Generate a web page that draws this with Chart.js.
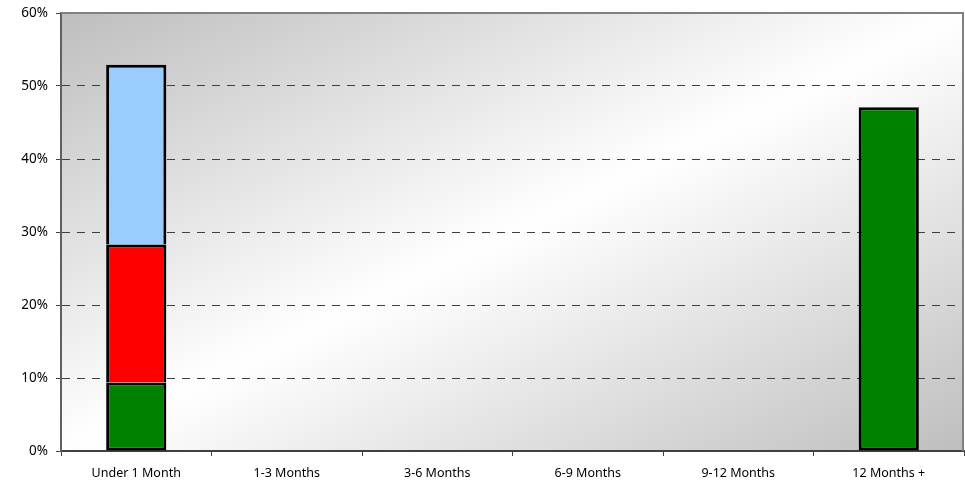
<!DOCTYPE html>
<html>
<head>
<meta charset="utf-8">
<script src="https://cdn.jsdelivr.net/npm/chart.js@4/dist/chart.umd.min.js"></script>
<style>
html,body{margin:0;padding:0;background:#fff;}
#wrap{width:965px;height:484px;}
</style>
</head>
<body>
<div id="wrap"><canvas id="c" width="965" height="484"></canvas></div>
<script>
const categories = ["Under 1 Month", "1-3 Months", "3-6 Months", "6-9 Months", "9-12 Months", "12 Months +"];
const greenValues = [9.4, null, null, null, null, 47.1];
const redValues = [18.9, null, null, null, null, null];
const blueValues = [24.6, null, null, null, null, null];
const yTicks = [0, 10, 20, 30, 40, 50, 60];

const FONT = "'Noto Sans', 'DejaVu Sans', sans-serif";

const bgPlugin = {
  id: 'bg',
  beforeDraw(chart) {
    const {ctx, chartArea: a} = chart;
    ctx.save();
    ctx.translate(a.left, a.top);
    ctx.scale(a.right - a.left, a.bottom - a.top);
    const g = ctx.createLinearGradient(0, 0, 1, 1);
    g.addColorStop(0, '#bebebe');
    g.addColorStop(0.5, '#ffffff');
    g.addColorStop(1, '#bebebe');
    ctx.fillStyle = g;
    ctx.fillRect(0, 0, 1, 1);
    ctx.restore();
  },
  afterDraw(chart) {
    const {ctx, chartArea: a} = chart;
    ctx.save();
    ctx.strokeStyle = '#808080';
    ctx.lineWidth = 2;
    ctx.beginPath();
    ctx.moveTo(a.left, a.top);
    ctx.lineTo(a.right - 1, a.top);
    ctx.lineTo(a.right - 1, a.bottom);
    ctx.stroke();
    ctx.restore();
  }
};

const ds = (label, data, color, skip) => ({
  label, data,
  backgroundColor: color,
  borderColor: '#000000',
  borderWidth: 3,
  borderSkipped: skip,
  barPercentage: 0.4,
  categoryPercentage: 1.0
});

new Chart(document.getElementById('c'), {
  type: 'bar',
  data: {
    labels: categories,
    datasets: [
      ds('A', greenValues, '#008000', false),
      ds('B', redValues, '#ff0000', 'bottom'),
      ds('C', blueValues, '#99ccff', 'bottom')
    ]
  },
  plugins: [bgPlugin],
  options: {
    responsive: false,
    animation: false,
    layout: { padding: { top: 13, right: 1, left: 0, bottom: 0 } },
    plugins: { legend: { display: false }, tooltip: { enabled: false } },
    scales: {
      x: {
        stacked: true,
        grid: {
          display: true,
          drawOnChartArea: false,
          drawTicks: true,
          tickLength: 5,
          tickColor: '#404040',
          tickWidth: 1,
          offset: true
        },
        border: { color: '#404040', width: 2 },
        ticks: {
          color: '#000',
          font: { family: FONT, size: 12.5 },
          padding: 10,
          maxRotation: 0
        },
        afterFit(s) { s.height = 33; s.paddingLeft = 0; s.paddingRight = 0; }
      },
      y: {
        stacked: true,
        min: 0,
        max: 60,
        afterBuildTicks(s) { s.ticks = yTicks.map(v => ({ value: v })); },
        grid: {
          color: (c) => (c.tick && (c.tick.value === 0 || c.tick.value === 60)) ? 'rgba(0,0,0,0)' : '#404040',
          tickColor: '#404040',
          tickBorderDash: [],
          lineWidth: 1,
          tickLength: 5,
          drawTicks: true
        },
        border: { color: '#606060', width: 2, dash: [8, 7] },
        ticks: {
          color: '#000',
          font: { family: FONT, size: 13.5 },
          padding: 8,
          callback: (v) => v + '%'
        },
        afterFit(s) { s.width = 61; s.paddingTop = 0; s.paddingBottom = 0; }
      }
    }
  }
});
</script>
</body>
</html>
